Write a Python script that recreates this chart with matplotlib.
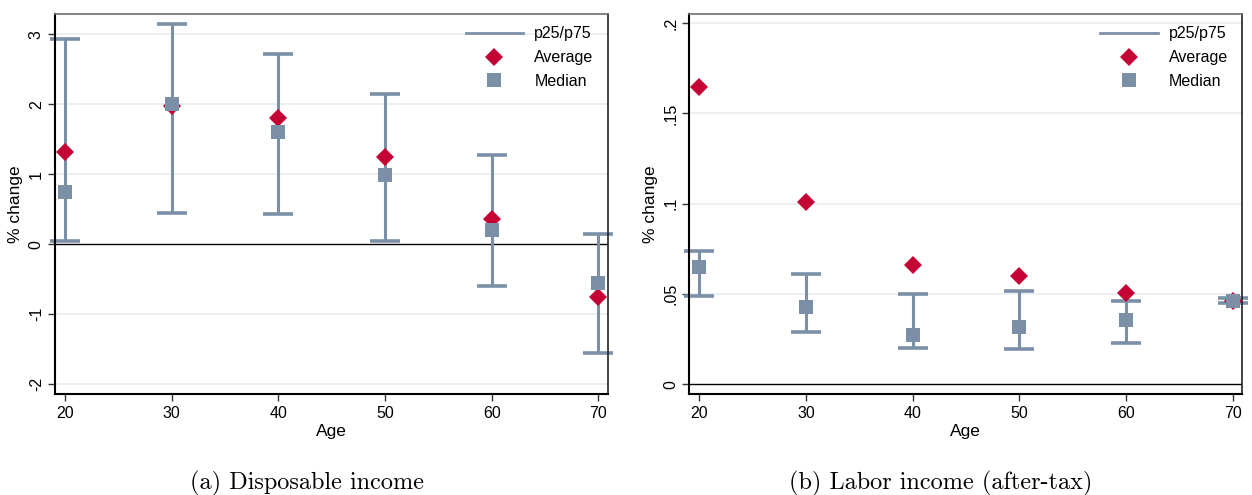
import numpy as np
import matplotlib
matplotlib.use('Agg')
import matplotlib.pyplot as plt
from matplotlib.lines import Line2D

# Data
ages = [20, 30, 40, 50, 60, 70]

# (a) Disposable income
disp_avg = [1.32, 1.97, 1.80, 1.24, 0.36, -0.76]
disp_med = [0.74, 2.00, 1.61, 0.99, 0.21, -0.55]
disp_p25 = [0.05, 0.44, 0.43, 0.05, -0.60, -1.56]
disp_p75 = [2.93, 3.15, 2.72, 2.14, 1.28, 0.15]

# (b) Labor income (after-tax)
lab_avg = [0.1646, 0.1012, 0.0663, 0.0602, 0.0504, 0.0463]
lab_med = [0.0649, 0.0427, 0.0272, 0.0316, 0.0356, 0.0461]
lab_p25 = [0.0488, 0.0290, 0.0203, 0.0197, 0.0227, 0.0449]
lab_p75 = [0.0737, 0.0613, 0.0500, 0.0517, 0.0462, 0.0477]

disp_yticks = [-2, -1, 0, 1, 2, 3]
disp_ylabels = ['-2', '-1', '0', '1', '2', '3']
lab_yticks = [0, 0.05, 0.1, 0.15, 0.2]
lab_ylabels = ['0', '.05', '.1', '.15', '.2']
xticks = [20, 30, 40, 50, 60, 70]

bar_col = '#7b90a7'
avg_col = '#c40233'
grid_col = '#e6eef1'

plt.rcParams['font.family'] = ['Liberation Sans', 'DejaVu Sans']

fig = plt.figure(figsize=(12.52, 4.95), dpi=100)
ax1 = fig.add_axes([0.0439, 0.204, 0.4417, 0.7677])
ax2 = fig.add_axes([0.5506, 0.204, 0.4417, 0.7677])


def draw_panel(ax, avg, med, p25, p75, yticks, ylabels, ylim):
    ax.set_xlim(19.05, 70.9)
    ax.set_ylim(*ylim)
    for t in yticks:
        if t != 0:
            ax.axhline(t, color=grid_col, lw=1.2, zorder=0)
    ax.axhline(0, color='black', lw=1.0, zorder=1)

    # whiskers and caps
    ax.vlines(ages, p25, p75, color=bar_col, lw=2.2, zorder=2, clip_on=False)
    ax.plot(ages, p25, ls='none', marker='_', ms=22, mew=2.6, color=bar_col,
            zorder=2, clip_on=False)
    ax.plot(ages, p75, ls='none', marker='_', ms=22, mew=2.6, color=bar_col,
            zorder=2, clip_on=False)
    ax.plot(ages, avg, ls='none', marker='D', ms=8.8, color=avg_col, mew=0,
            zorder=3, clip_on=False)
    ax.plot(ages, med, ls='none', marker='s', ms=9.8, color=bar_col, mew=0,
            zorder=4, clip_on=False)

    ax.set_xticks(xticks)
    ax.set_xticklabels([str(a) for a in xticks])
    ax.set_yticks(yticks)
    ax.set_yticklabels(ylabels, rotation=90, va='center')
    ax.tick_params(axis='both', labelsize=11.5, length=5, width=1, color='#333333')
    ax.tick_params(axis='y', pad=3)
    ax.set_xlabel('Age', fontsize=12.5, labelpad=2)
    ax.set_ylabel('% change', fontsize=12.5, labelpad=4)

    for s in ['left', 'bottom']:
        ax.spines[s].set_linewidth(1.5)
        ax.spines[s].set_color('black')
    ax.spines['top'].set_color('#6e6e6e')
    ax.spines['top'].set_linewidth(1.2)
    ax.spines['right'].set_color('#222222')
    ax.spines['right'].set_linewidth(1.2)

    handles = [
        Line2D([], [], color=bar_col, lw=2),
        Line2D([], [], ls='none', marker='D', ms=8.8, color=avg_col, mew=0),
        Line2D([], [], ls='none', marker='s', ms=9.8, color=bar_col, mew=0),
    ]
    ax.legend(handles, ['p25/p75', 'Average', 'Median'], loc='upper right',
              frameon=False, fontsize=11.5, handlelength=3.6,
              handletextpad=0.7, labelspacing=0.55,
              bbox_to_anchor=(1.0, 1.005))


draw_panel(ax1, disp_avg, disp_med, disp_p25, disp_p75,
           disp_yticks, disp_ylabels, (-2.14, 3.29))
draw_panel(ax2, lab_avg, lab_med, lab_p25, lab_p75,
           lab_yticks, lab_ylabels, (-0.0053, 0.205))

fig.text(0.2456, 0.024, '(a) Disposable income', family='cmr10',
         fontsize=17.5, ha='center', va='center')
fig.text(0.751, 0.024, '(b) Labor income (after-tax)', family='cmr10',
         fontsize=17.5, ha='center', va='center')

fig.savefig('out.png', dpi=100)
